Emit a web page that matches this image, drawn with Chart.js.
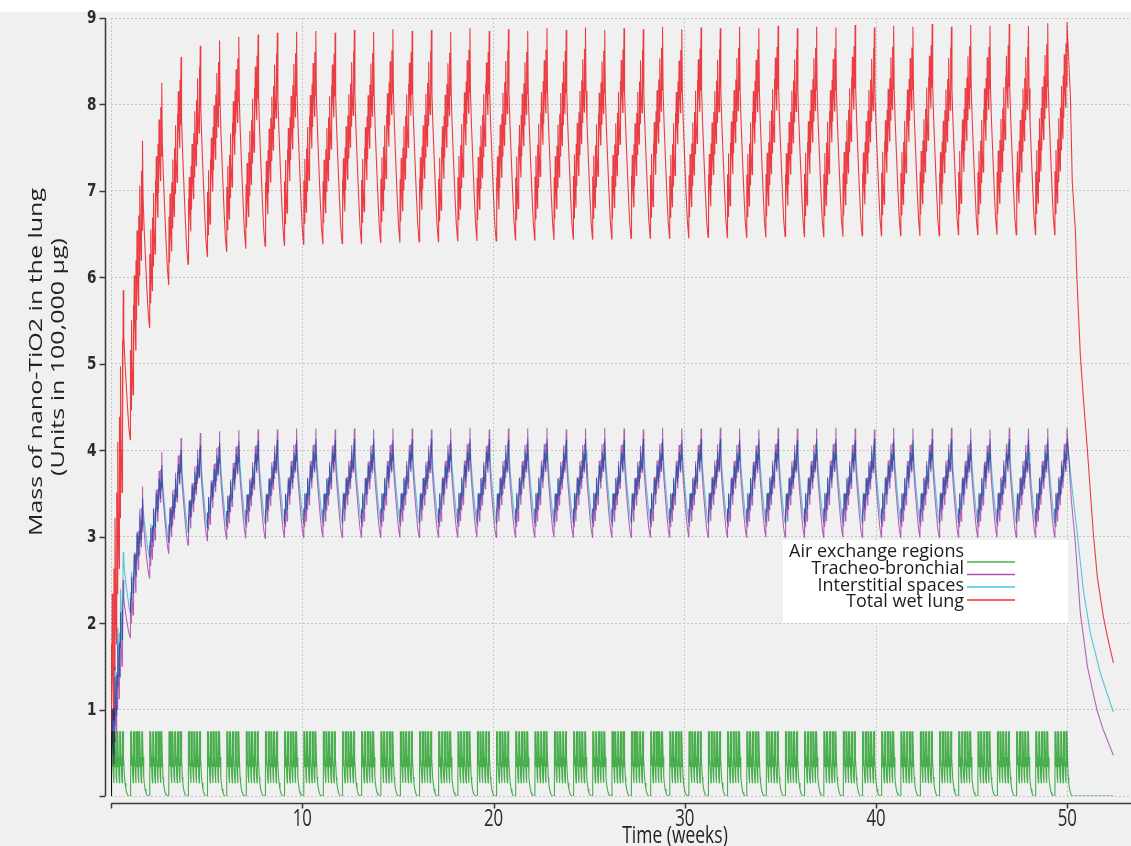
<!DOCTYPE html>
<html>
<head>
<meta charset="utf-8">
<script src="https://cdn.jsdelivr.net/npm/chart.js@4.4.1/dist/chart.umd.min.js"></script>
<style>
  html, body { margin: 0; padding: 0; background: #f0f0f0; overflow: hidden; }
  canvas { display: block; }
</style>
</head>
<body>
<canvas id="lungChart" width="1131" height="846"></canvas>
<script>
// ---- Series metadata ----
const seriesLabels = ['Air exchange regions', 'Tracheo-bronchial', 'Interstitial spaces', 'Total wet lung'];
const seriesColors = ['rgb(66,180,72)', 'rgb(176,80,182)', 'rgb(66,196,228)', 'rgb(248,48,54)'];
const seriesStroke = ['rgba(66,180,72,0.95)', 'rgba(176,80,182,0.85)', 'rgba(66,196,228,0.85)', 'rgba(248,48,54,0.92)'];

// ---- Axis ticks ----
const xTicks = [10, 20, 30, 40, 50];
const yTicks = [1, 2, 3, 4, 5, 6, 7, 8, 9];
const xTitle = 'Time (weeks)';
const yTitle = ['Mass of nano-TiO2 in the lung', '(Units in 100,000 \u00b5g)'];

// ---- Exposure cycle timing (one cycle = 5 exposure days + weekend) ----
const CYCLE_WEEKS = 1.007;
const DAYS_PER_CYCLE = 7;

// Sample days within a cycle for the exposure part (night, pulse, dip, pulse, end)
const riseDays = [
  0.00, 0.08, 0.28, 0.45, 0.65,
  1.00, 1.08, 1.28, 1.45, 1.65,
  2.00, 2.08, 2.28, 2.45, 2.65,
  3.00, 3.08, 3.28, 3.45, 3.65,
  4.00, 4.08, 4.28, 4.45
];
// Sample days for the weekend decline
const fallDays = [4.65, 5.0, 5.5, 6.0, 6.5];

// Within-cycle shape, as a fraction between the cycle's Monday low and Friday high
const redRise = [
  0.00, 0.30, 0.10, 0.40, 0.26,
  0.15, 0.45, 0.25, 0.55, 0.41,
  0.30, 0.60, 0.40, 0.70, 0.56,
  0.45, 0.75, 0.55, 0.85, 0.71,
  0.60, 0.90, 0.70, 1.00
];
const purpleRise = [
  0.00, 0.26, 0.10, 0.40, 0.27,
  0.15, 0.41, 0.25, 0.55, 0.42,
  0.30, 0.56, 0.40, 0.70, 0.57,
  0.45, 0.71, 0.55, 0.85, 0.72,
  0.60, 0.86, 0.70, 1.00
];
const cyanRise = [
  0.00, 0.18, 0.12, 0.36, 0.30,
  0.17, 0.35, 0.29, 0.53, 0.47,
  0.33, 0.51, 0.45, 0.69, 0.63,
  0.49, 0.67, 0.61, 0.85, 0.79,
  0.64, 0.82, 0.76, 1.00
];
// Weekend decline, as a fraction between Friday high and next Monday low
const redFall = [0.70, 0.55, 0.38, 0.22, 0.08];
const purpleFall = [0.68, 0.52, 0.36, 0.21, 0.08];
const cyanFall = [0.85, 0.66, 0.46, 0.28, 0.11];

// Friday highs and Monday lows per exposure cycle (units of 100,000 ug)
const redPeak = [
  5.85, 7.58, 8.25, 8.55, 8.68, 8.74, 8.78, 8.81, 8.83, 8.84,
  8.85, 8.83, 8.86, 8.84, 8.87, 8.85, 8.86, 8.84, 8.88, 8.85,
  8.87, 8.85, 8.88, 8.86, 8.89, 8.86, 8.88, 8.87, 8.90, 8.87,
  8.89, 8.88, 8.90, 8.88, 8.91, 8.88, 8.90, 8.89, 8.92, 8.89,
  8.91, 8.90, 8.93, 8.90, 8.92, 8.91, 8.93, 8.91, 8.94, 8.95
];
const redTrough = [
  0.00, 4.12, 5.42, 5.91, 6.15, 6.24, 6.30, 6.33, 6.36, 6.37,
  6.38, 6.38, 6.39, 6.39, 6.40, 6.40, 6.41, 6.41, 6.42, 6.42,
  6.42, 6.43, 6.43, 6.43, 6.44, 6.44, 6.44, 6.45, 6.45, 6.45,
  6.45, 6.46, 6.46, 6.46, 6.46, 6.47, 6.47, 6.47, 6.47, 6.48,
  6.48, 6.48, 6.48, 6.48, 6.49, 6.49, 6.49, 6.49, 6.49, 6.49
];
const purplePeak = [
  2.50, 3.58, 3.98, 4.14, 4.20, 4.22, 4.23, 4.24, 4.24, 4.25,
  4.25, 4.24, 4.25, 4.24, 4.25, 4.25, 4.24, 4.25, 4.26, 4.24,
  4.25, 4.25, 4.26, 4.24, 4.25, 4.26, 4.25, 4.24, 4.26, 4.25,
  4.25, 4.26, 4.25, 4.24, 4.26, 4.25, 4.25, 4.26, 4.25, 4.24,
  4.26, 4.25, 4.25, 4.26, 4.25, 4.24, 4.26, 4.25, 4.25, 4.26
];
const purpleTrough = [
  0.00, 1.83, 2.52, 2.80, 2.90, 2.95, 2.97, 2.98, 2.98, 2.99,
  2.99, 2.99, 2.99, 2.99, 2.99, 2.99, 2.99, 2.99, 2.99, 2.99,
  2.99, 2.99, 2.99, 2.99, 2.99, 2.99, 2.99, 2.99, 2.99, 2.99,
  2.99, 2.99, 2.99, 2.99, 2.99, 2.99, 2.99, 2.99, 2.99, 2.99,
  2.99, 2.99, 2.99, 2.99, 2.99, 2.99, 2.99, 2.99, 2.99, 2.99
];
const cyanPeak = [
  2.82, 3.44, 3.83, 4.00, 4.06, 4.09, 4.10, 4.11, 4.12, 4.12,
  4.13, 4.12, 4.13, 4.13, 4.12, 4.13, 4.13, 4.12, 4.13, 4.13,
  4.12, 4.13, 4.13, 4.12, 4.13, 4.13, 4.12, 4.13, 4.13, 4.12,
  4.13, 4.13, 4.12, 4.13, 4.13, 4.12, 4.13, 4.13, 4.12, 4.13,
  4.13, 4.12, 4.13, 4.13, 4.12, 4.13, 4.13, 4.12, 4.13, 4.13
];
const cyanTrough = [
  0.00, 2.12, 2.76, 2.93, 3.05, 3.10, 3.12, 3.14, 3.15, 3.15,
  3.16, 3.16, 3.16, 3.16, 3.16, 3.16, 3.16, 3.16, 3.16, 3.16,
  3.16, 3.16, 3.16, 3.16, 3.16, 3.16, 3.16, 3.16, 3.16, 3.16,
  3.16, 3.16, 3.16, 3.16, 3.16, 3.16, 3.16, 3.16, 3.16, 3.16,
  3.16, 3.16, 3.16, 3.16, 3.16, 3.16, 3.16, 3.16, 3.16, 3.16
];

// Air exchange regions: one cycle of daily pulses (absolute values)
const greenDays = [
  0.07, 0.08, 0.26, 0.44, 0.45, 0.65, 0.90,
  1.07, 1.08, 1.26, 1.44, 1.45, 1.65, 1.90,
  2.07, 2.08, 2.26, 2.44, 2.45, 2.65, 2.90,
  3.07, 3.08, 3.26, 3.44, 3.45, 3.65, 3.90,
  4.07, 4.08, 4.26, 4.44, 4.45, 4.65, 4.90,
  5.10, 5.40, 5.70, 6.00, 6.30, 7.00
];
const greenWeek = [
  0.00, 0.75, 0.34, 0.37, 0.75, 0.45, 0.22,
  0.15, 0.75, 0.34, 0.37, 0.75, 0.45, 0.22,
  0.15, 0.75, 0.34, 0.37, 0.75, 0.45, 0.22,
  0.15, 0.75, 0.34, 0.37, 0.75, 0.45, 0.22,
  0.15, 0.75, 0.34, 0.37, 0.75, 0.45, 0.22,
  0.15, 0.08, 0.04, 0.015, 0.00, 0.00
];

// Post-exposure clearance (time in weeks, value)
const redRecoveryWeeks = [50.16, 50.26, 50.42, 50.50, 50.68, 50.84, 51.05, 51.36, 51.57, 51.89, 52.09, 52.41];
const redRecovery      = [8.10, 7.10, 6.55, 6.00, 5.10, 4.60, 4.00, 3.04, 2.53, 2.07, 1.85, 1.54];
const purpleRecoveryWeeks = [50.21, 50.42, 50.68, 51.05, 51.36, 51.57, 51.89, 52.41];
const purpleRecovery      = [3.43, 2.93, 2.12, 1.50, 1.18, 0.98, 0.76, 0.47];
const cyanRecoveryWeeks = [50.26, 50.52, 50.84, 51.20, 51.47, 51.73, 52.09, 52.41];
const cyanRecovery      = [3.54, 3.04, 2.38, 1.89, 1.65, 1.42, 1.18, 0.97];
const greenRecoveryWeeks = [52.41];
const greenRecovery      = [0.00];

// ---- Build point lists ----
function dayToWeeks(cycle, day) {
  return (cycle + day / DAYS_PER_CYCLE) * CYCLE_WEEKS;
}

function buildCompartment(peaks, troughs, rise, fall, recWeeks, recVals) {
  const pts = [];
  const last = peaks.length - 1;
  peaks.forEach((hi, k) => {
    const lo = troughs[k];
    riseDays.forEach((d, i) => pts.push({ x: dayToWeeks(k, d), y: lo + rise[i] * (hi - lo) }));
    if (k < last) {
      const next = troughs[k + 1];
      fallDays.forEach((d, i) => pts.push({ x: dayToWeeks(k, d), y: next + fall[i] * (hi - next) }));
    }
  });
  recWeeks.forEach((t, i) => pts.push({ x: t, y: recVals[i] }));
  return pts;
}

function buildAirExchange(cycles, recWeeks, recVals) {
  const pts = [];
  for (let k = 0; k < cycles; k++) {
    greenDays.forEach((d, i) => pts.push({ x: dayToWeeks(k, d), y: greenWeek[i] }));
  }
  recWeeks.forEach((t, i) => pts.push({ x: t, y: recVals[i] }));
  return pts;
}

const seriesPoints = [
  buildAirExchange(redPeak.length, greenRecoveryWeeks, greenRecovery),
  buildCompartment(purplePeak, purpleTrough, purpleRise, purpleFall, purpleRecoveryWeeks, purpleRecovery),
  buildCompartment(cyanPeak, cyanTrough, cyanRise, cyanFall, cyanRecoveryWeeks, cyanRecovery),
  buildCompartment(redPeak, redTrough, redRise, redFall, redRecoveryWeeks, redRecovery)
];

// ---- Decorations: background, offset axes, titles, legend ----
function squeezedText(ctx, text, x, y, sx, rotate) {
  ctx.save();
  ctx.translate(x, y);
  ctx.scale(sx, 1);
  if (rotate) ctx.rotate(-Math.PI / 2);
  ctx.fillText(text, 0, 0);
  ctx.restore();
}

const framePlugin = {
  id: 'frame',
  beforeDraw(chart) {
    const { ctx, width, height } = chart;
    ctx.save();
    ctx.fillStyle = '#f0f0f0';
    ctx.fillRect(0, 0, width, height);
    ctx.fillStyle = '#ffffff';
    ctx.fillRect(0, 0, width, 12);
    ctx.restore();
  },
  beforeDatasetsDraw(chart) {
    chart.ctx.save();
    chart.ctx.globalCompositeOperation = 'multiply';
  },
  afterDatasetsDraw(chart) {
    chart.ctx.restore();
  },
  afterDraw(chart) {
    const { ctx, chartArea } = chart;
    const xs = chart.scales.x, ys = chart.scales.y;
    const axisX = chartArea.left - 5.5;
    const axisY = chartArea.bottom + 7.5;

    ctx.save();
    // axis lines with outward ticks
    ctx.strokeStyle = '#3a3a3a';
    ctx.lineWidth = 1.5;
    ctx.beginPath();
    ctx.moveTo(axisX, ys.getPixelForValue(9));
    ctx.lineTo(axisX, ys.getPixelForValue(0));
    [0].concat(yTicks).forEach(v => {
      const py = Math.round(ys.getPixelForValue(v)) + 0.5;
      ctx.moveTo(axisX - 6, py);
      ctx.lineTo(axisX, py);
    });
    ctx.moveTo(xs.getPixelForValue(0), axisY);
    ctx.lineTo(chartArea.right, axisY);
    [0].concat(xTicks).forEach(v => {
      const px = Math.round(xs.getPixelForValue(v)) + 0.5;
      ctx.moveTo(px, axisY);
      ctx.lineTo(px, axisY + 5);
    });
    ctx.stroke();

    // y tick labels
    ctx.fillStyle = '#2c2c2c';
    ctx.font = 'bold 17px "DejaVu Sans"';
    ctx.textAlign = 'right';
    ctx.textBaseline = 'middle';
    yTicks.forEach(v => squeezedText(ctx, String(v), axisX - 9, ys.getPixelForValue(v) + 1, 0.8, false));

    // x tick labels
    ctx.font = '24px "Open Sans"';
    ctx.textAlign = 'center';
    ctx.textBaseline = 'middle';
    xTicks.forEach(v => squeezedText(ctx, String(v), xs.getPixelForValue(v), axisY + 16, 0.7, false));

    // axis titles
    ctx.fillStyle = '#222222';
    ctx.font = '23px "Open Sans"';
    squeezedText(ctx, xTitle, 675, 836, 0.76, false);
    ctx.font = '25px "Open Sans"';
    squeezedText(ctx, yTitle[0], 37.5, 362, 0.7, true);
    squeezedText(ctx, yTitle[1], 59, 357, 0.7, true);

    // legend box
    ctx.fillStyle = '#ffffff';
    ctx.fillRect(783, 540, 285, 83);
    const textBase = [557, 574, 591, 607];
    const lineY = [562, 574.5, 587, 600];
    ctx.font = '18px "Open Sans"';
    ctx.textAlign = 'right';
    ctx.textBaseline = 'alphabetic';
    ctx.fillStyle = '#1c1c1c';
    seriesLabels.forEach((label, i) => {
      ctx.fillText(label, 964, textBase[i]);
      ctx.strokeStyle = seriesColors[i];
      ctx.lineWidth = 1.5;
      ctx.beginPath();
      ctx.moveTo(967, lineY[i]);
      ctx.lineTo(1015, lineY[i]);
      ctx.stroke();
    });
    ctx.restore();
  }
};

// ---- Chart ----
new Chart(document.getElementById('lungChart'), {
  type: 'line',
  data: {
    datasets: seriesLabels.map((label, i) => ({
      label,
      data: seriesPoints[i],
      borderColor: seriesStroke[i],
      borderWidth: 1.1,
      borderJoinStyle: 'bevel',
      pointRadius: 0,
      tension: 0,
      fill: false
    }))
  },
  options: {
    responsive: false,
    animation: false,
    devicePixelRatio: 1,
    parsing: false,
    normalized: true,
    layout: { padding: { top: 18, right: 0, left: 0, bottom: 0 } },
    plugins: { legend: { display: false }, tooltip: { enabled: false } },
    scales: {
      x: {
        type: 'linear',
        min: 0,
        max: 53.33,
        afterBuildTicks(scale) { scale.ticks = [0].concat(xTicks).map(v => ({ value: v })); },
        afterFit(scale) { scale.height = 50; },
        ticks: { display: false },
        grid: { color: '#c6c6c6', lineWidth: 1, drawTicks: false },
        border: { display: false, dash: [2, 2] }
      },
      y: {
        type: 'linear',
        min: 0,
        max: 9,
        afterBuildTicks(scale) { scale.ticks = [0].concat(yTicks).map(v => ({ value: v })); },
        afterFit(scale) { scale.width = 111; },
        ticks: { display: false },
        grid: { color: '#c6c6c6', lineWidth: 1, drawTicks: false },
        border: { display: false, dash: [2, 2] }
      }
    }
  },
  plugins: [framePlugin]
});
</script>
</body>
</html>
